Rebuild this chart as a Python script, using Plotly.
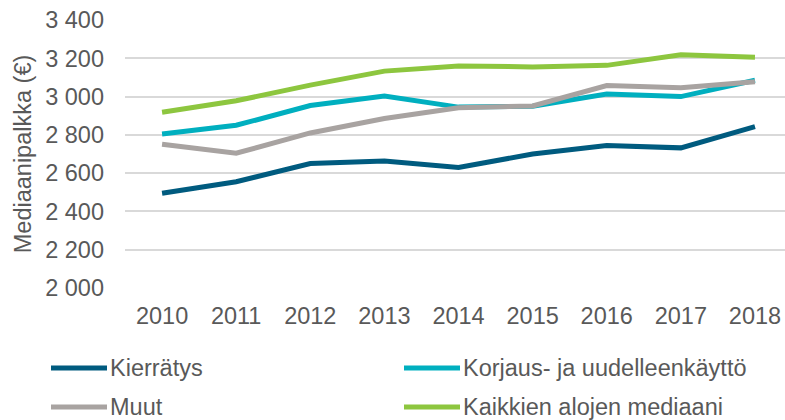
import plotly.graph_objects as go

years = [2010, 2011, 2012, 2013, 2014, 2015, 2016, 2017, 2018]
kierratys = [2495, 2555, 2650, 2663, 2630, 2700, 2744, 2732, 2843]
korjaus = [2805, 2850, 2953, 3003, 2945, 2950, 3013, 3000, 3085]
muut = [2751, 2704, 2810, 2885, 2942, 2951, 3058, 3046, 3078]
kaikki = [2918, 2978, 3060, 3133, 3160, 3155, 3163, 3218, 3205]

series_names = ["Kierrätys", "Korjaus- ja uudelleenkäyttö", "Muut", "Kaikkien alojen mediaani"]
series_colors = ["#005B7F", "#00AFBF", "#A8A3A1", "#8DC63F"]

y_ticks = [2000, 2200, 2400, 2600, 2800, 3000, 3200, 3400]
y_ticktext = ["2\u00a0000", "2\u00a0200", "2\u00a0400", "2\u00a0600", "2\u00a0800",
              "3\u00a0000", "3\u00a0200", "3\u00a0400"]

W, H = 785, 420
L, R, T, B = 125, 0, 20, 132
pw, ph = W - L - R, H - T - B
fs = 23.5

fig = go.Figure()

for name, vals, col in zip(series_names, [kierratys, korjaus, muut, kaikki], series_colors):
    fig.add_trace(go.Scatter(x=years, y=vals, mode="lines", name=name,
                             line=dict(color=col, width=5), showlegend=False))

font_col = "#595959"

# legend drawn by hand: 2 columns, long line keys like the original
def px_x(p):
    return (p - L) / pw

def px_y(p):
    return (H - B - p) / ph

col_line_x = [51, 404]
row_y = [368, 407]
for i, (name, col) in enumerate(zip(series_names, series_colors)):
    c, r = i % 2, i // 2
    x0 = col_line_x[c]
    y = row_y[r]
    fig.add_shape(type="line", xref="paper", yref="paper",
                  x0=px_x(x0), x1=px_x(x0 + 56), y0=px_y(y), y1=px_y(y),
                  line=dict(color=col, width=5))
    fig.add_annotation(xref="paper", yref="paper", x=px_x(x0 + 57), y=px_y(y),
                       text=name, showarrow=False, xanchor="left", yanchor="middle",
                       font=dict(size=fs, color=font_col))

fig.update_layout(
    width=W, height=H,
    margin=dict(l=L, r=R, t=T, b=B, autoexpand=False),
    paper_bgcolor="white", plot_bgcolor="white",
    font=dict(family="Liberation Sans, Arial, sans-serif", size=fs, color=font_col),
    xaxis=dict(range=[2009.5, 2018.405], tickvals=years, showgrid=False,
               zeroline=False, showline=False, ticklabelstandoff=11, automargin=False,
               tickfont=dict(size=fs, color=font_col)),
    yaxis=dict(range=[2000, 3400], tickvals=y_ticks, ticktext=y_ticktext,
               showgrid=True, gridcolor="#D9D9D9", gridwidth=1.8, zeroline=False,
               ticklabelstandoff=20, automargin=False,
               tickfont=dict(size=fs, color=font_col),
               title=dict(text="Mediaanipalkka (€)", standoff=6,
                          font=dict(size=fs, color=font_col))),
    showlegend=False,
)

# page body has a default 8px margin; drop it so the chart sits at the corner
fig.write_html("out.html", config={"displayModeBar": False},
               post_script="document.body.style.margin='0';")
